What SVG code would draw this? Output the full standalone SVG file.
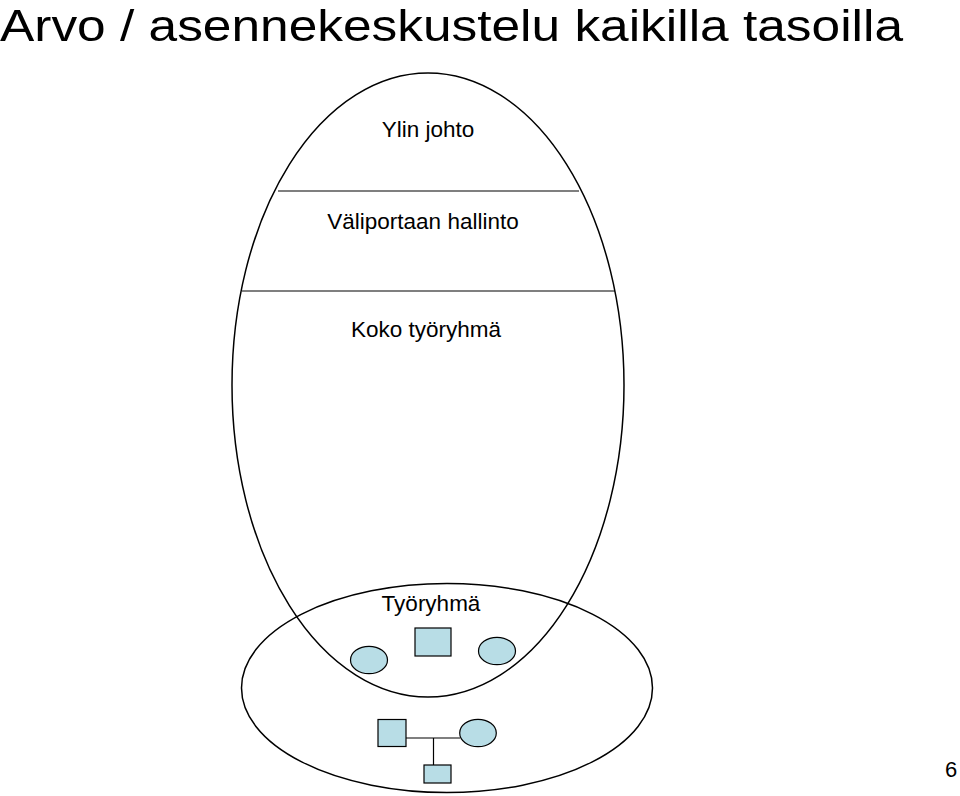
<svg xmlns="http://www.w3.org/2000/svg" width="960" height="796" viewBox="0 0 960 796">
<style>
text{font-family:"Liberation Sans",Arial,sans-serif;fill:#000}
.o{fill:none;stroke:#000;stroke-width:1.5}
.s{fill:#b8dde6;stroke:#000;stroke-width:1.2}
.l{stroke:#000;stroke-width:1.2;fill:none}
.lbl{font-size:22.5px;text-anchor:middle}
</style>
<rect width="960" height="796" fill="#fff"/>
<text x="0" y="40.5" font-size="45" textLength="903" lengthAdjust="spacingAndGlyphs">Arvo / asennekeskustelu kaikilla tasoilla</text>
<g id="organisation">
<ellipse class="o" cx="428" cy="385" rx="196" ry="312"/>
<line class="l" x1="278" y1="191" x2="579" y2="191"/>
<line class="l" x1="242" y1="291" x2="615" y2="291"/>
<text class="lbl" x="428" y="137">Ylin johto</text>
<text class="lbl" x="423" y="229">Väliportaan hallinto</text>
<text class="lbl" x="426" y="337">Koko työryhmä</text>
</g>
<g id="tyoryhma">
<ellipse class="o" cx="447" cy="688" rx="205.5" ry="104.5"/>
<text class="lbl" x="431" y="611">Työryhmä</text>
</g>
<g id="connectors">
<line class="l" x1="406" y1="738" x2="460" y2="738"/>
<line class="l" x1="433.5" y1="738" x2="433.5" y2="765"/>
</g>
<g id="n1"><ellipse class="s" cx="369" cy="660" rx="18.5" ry="13.7"/></g>
<g id="n2"><rect class="s" x="415" y="628" width="36" height="28"/></g>
<g id="n3"><ellipse class="s" cx="497" cy="651" rx="18.5" ry="13.7"/></g>
<g id="n4"><rect class="s" x="378" y="719.5" width="28" height="27"/></g>
<g id="n5"><ellipse class="s" cx="478" cy="733" rx="18.3" ry="13.7"/></g>
<g id="n6"><rect class="s" x="424" y="765" width="27" height="18"/></g>
<text x="951" y="777" font-size="22" text-anchor="middle">6</text>
</svg>
